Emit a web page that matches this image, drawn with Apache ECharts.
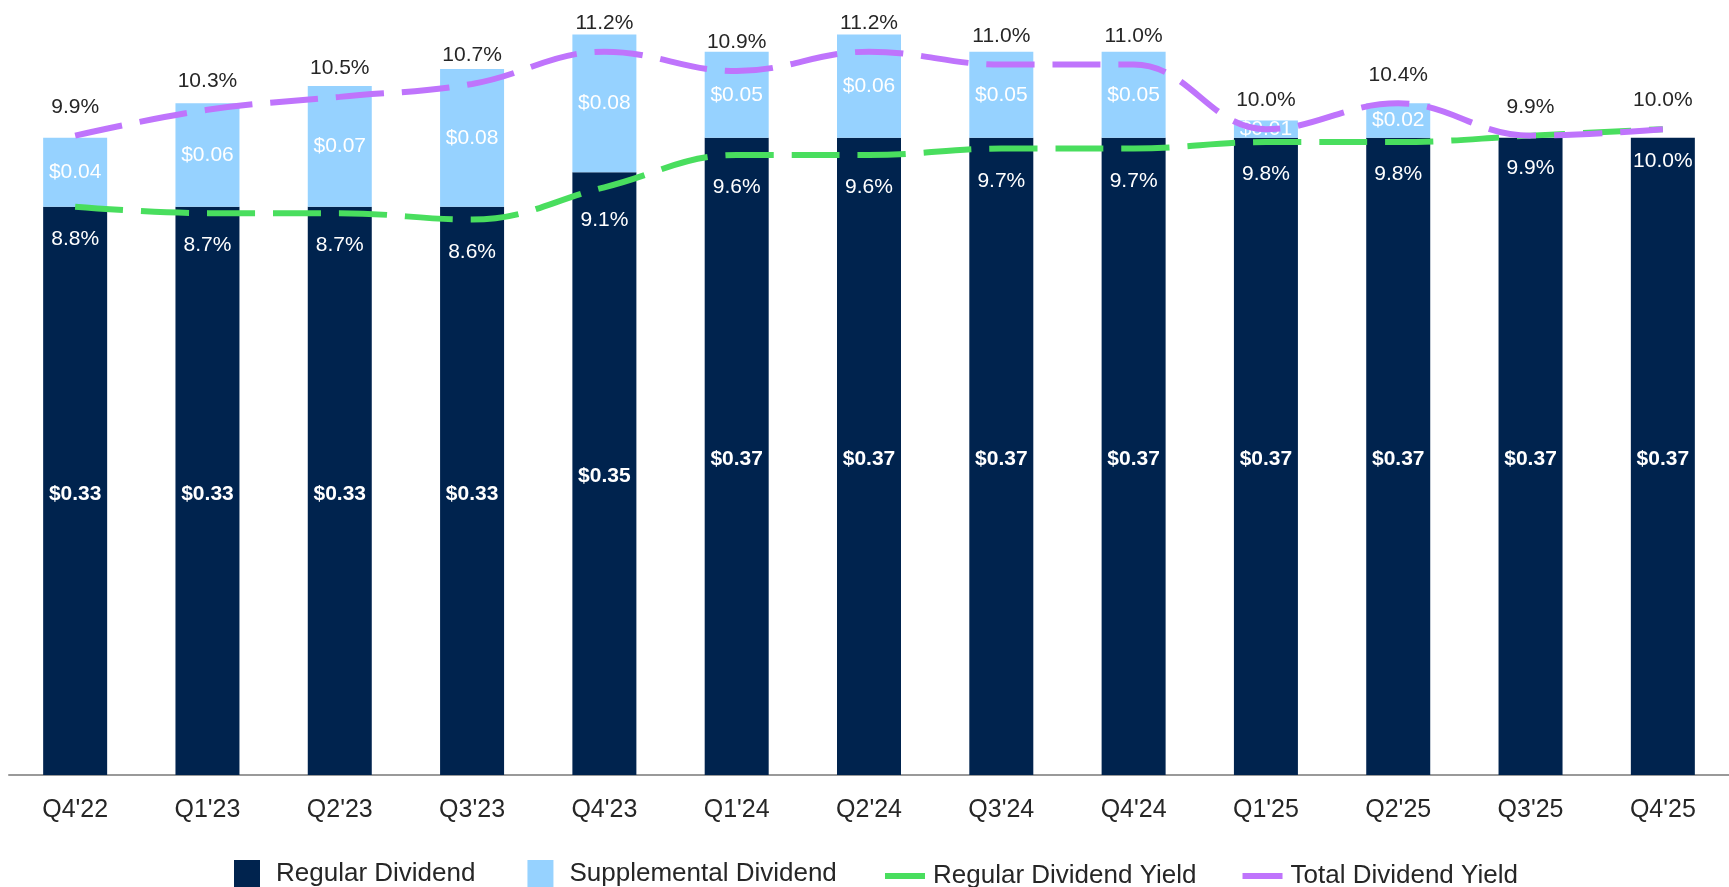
<!DOCTYPE html>
<html lang="en">
<head>
    <meta charset="UTF-8">
    <title>Dividends</title>
    <script src="https://cdn.jsdelivr.net/npm/echarts@6/dist/echarts.min.js"></script>
    <style>
        html, body { margin: 0; padding: 0; background: #fff; }
        #main { width: 1729px; height: 887px; }
    </style>
</head>
<body>
<div id="main"></div>

<script>
    // data
    const categories = ["Q4'22", "Q1'23", "Q2'23", "Q3'23", "Q4'23", "Q1'24", "Q2'24", "Q3'24", "Q4'24", "Q1'25", "Q2'25", "Q3'25", "Q4'25"];
    const regularDividend = [0.33, 0.33, 0.33, 0.33, 0.35, 0.37, 0.37, 0.37, 0.37, 0.37, 0.37, 0.37, 0.37];
    const supplementalDividend = [0.04, 0.06, 0.07, 0.08, 0.08, 0.05, 0.06, 0.05, 0.05, 0.01, 0.02, 0, 0];
    const regularYield = [8.8, 8.7, 8.7, 8.6, 9.1, 9.6, 9.6, 9.7, 9.7, 9.8, 9.8, 9.9, 10.0];
    const totalYield = [9.9, 10.3, 10.5, 10.7, 11.2, 10.9, 11.2, 11.0, 11.0, 10.0, 10.4, 9.9, 10.0];

    const font = "'Liberation Sans', Arial, sans-serif";
    const textDark = '#262626';

    let chart = echarts.init(document.getElementById('main'));

    const option = {
        animation: false,
        textStyle: { fontFamily: font },
        grid: { left: 9, right: -13, top: 0, bottom: 112, containLabel: false },
        legend: [
            {
                // bar items
                data: ['Regular Dividend', 'Supplemental Dividend'],
                left: 234, top: 860, padding: 0,
                itemWidth: 26, itemHeight: 28, itemGap: 52,
                icon: 'rect',
                textStyle: { fontSize: 26, color: textDark, fontFamily: font, padding: [0, 0, 0, 11] }
            },
            {
                // line items
                data: ['Regular Dividend Yield', 'Total Dividend Yield'],
                left: 885, top: 863, padding: 0,
                itemWidth: 40, itemHeight: 6, itemGap: 46,
                icon: 'rect',
                lineStyle: { width: 0 },
                textStyle: { fontSize: 26, color: textDark, fontFamily: font, padding: [0, 0, 0, 3] }
            }
        ],
        xAxis: {
            type: 'category',
            data: categories,
            axisTick: { show: false },
            axisLine: { lineStyle: { color: '#999999', width: 2 } },
            axisLabel: { fontSize: 25, color: textDark, margin: 23, fontFamily: font }
        },
        yAxis: [
            { type: 'value', min: 0, max: 0.45, show: false, splitLine: { show: false } },
            { type: 'value', min: 0, max: 12, show: false, splitLine: { show: false } }
        ],
        series: [
            {
                name: 'Regular Dividend',
                type: 'bar',
                stack: 'div',
                barWidth: 64,
                data: regularDividend,
                itemStyle: { color: '#00234e' },
                label: {
                    show: true,
                    position: 'inside',
                    offset: [0, 3],
                    color: '#ffffff',
                    fontWeight: 'bold',
                    fontSize: 21,
                    fontFamily: font,
                    formatter: p => '$' + p.value.toFixed(2)
                }
            },
            {
                name: 'Supplemental Dividend',
                type: 'bar',
                stack: 'div',
                barWidth: 64,
                data: supplementalDividend,
                itemStyle: { color: '#96d2ff' },
                label: {
                    show: true,
                    position: 'inside',
                    color: '#ffffff',
                    fontSize: 21,
                    fontFamily: font,
                    formatter: p => p.value > 0 ? '$' + p.value.toFixed(2) : ''
                }
            },
            {
                name: 'Regular Dividend Yield',
                type: 'line',
                yAxisIndex: 1,
                data: regularYield,
                smooth: 0.4,
                symbol: 'circle',
                symbolSize: 0,
                showSymbol: true,
                color: '#49de5e',
                itemStyle: { color: '#49de5e' },
                lineStyle: { color: '#49de5e', width: 6, type: [48, 18], cap: 'butt' },
                label: {
                    show: true,
                    position: 'bottom',
                    distance: 22,
                    color: '#ffffff',
                    fontSize: 21,
                    fontFamily: font,
                    formatter: p => p.value.toFixed(1) + '%'
                },
                z: 3
            },
            {
                name: 'Total Dividend Yield',
                type: 'line',
                yAxisIndex: 1,
                data: totalYield,
                smooth: 0.4,
                symbol: 'circle',
                symbolSize: 0,
                showSymbol: true,
                color: '#bf74fc',
                itemStyle: { color: '#bf74fc' },
                lineStyle: { color: '#bf74fc', width: 6, type: [48, 18], cap: 'butt' },
                label: {
                    show: true,
                    position: 'top',
                    distance: 18,
                    color: textDark,
                    fontSize: 21,
                    fontFamily: font,
                    formatter: p => p.value.toFixed(1) + '%'
                },
                z: 4
            }
        ]
    };

    chart.setOption(option);
</script>
</body>
</html>
